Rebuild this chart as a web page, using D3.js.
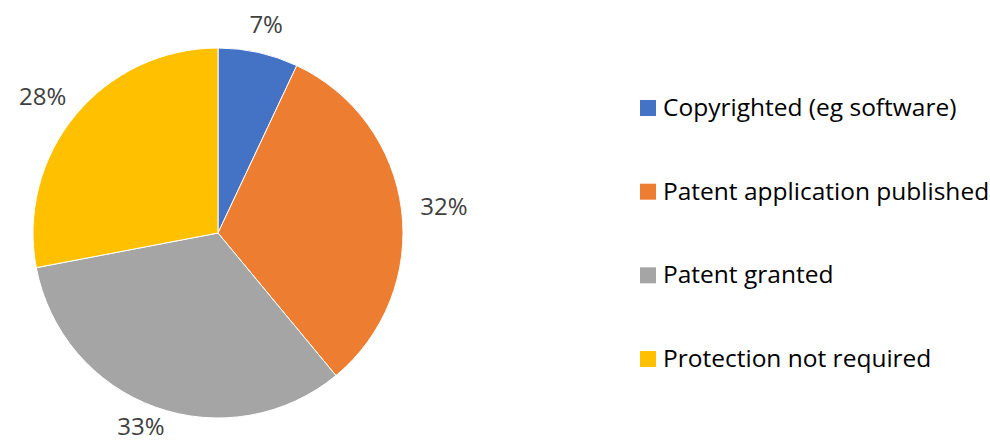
<!DOCTYPE html>
<html>
<head>
<meta charset="utf-8">
<script src="https://cdn.jsdelivr.net/npm/d3@7"></script>
<style>
  body { margin: 0; background: #fff; }
</style>
</head>
<body>
<div id="container"></div>
<script>
"use strict";

const categories = [
  "Copyrighted (eg software)",
  "Patent application published",
  "Patent granted",
  "Protection not required",
];
const shares = [7, 32, 33, 28];
const shareLabels = ["7%", "32%", "33%", "28%"];

const colors = ["#4472C4", "#ED7D31", "#A5A5A5", "#FFC000"];

const plotWidth = 990;
const plotHeight = 443;
const centerX = 218;
const centerY = 233;
const radius = 185;
const labelRadius = 204;
const labelFontSize = 24;
const legendFontSize = 24.5;
const legendX = 640;
const swatchSize = 16;

function plotPie() {
  const svg = d3
    .select("#container")
    .append("svg")
    .attr("width", plotWidth)
    .attr("height", plotHeight)
    .style("font-family", "'Open Sans', sans-serif");

  const pie = d3.pie().sort(null).value(d => d);
  const arcs = pie(shares);

  const arc = d3.arc().innerRadius(0).outerRadius(radius);

  const g = svg
    .append("g")
    .attr("transform", `translate(${centerX}, ${centerY})`);

  g.selectAll("path")
    .data(arcs)
    .enter()
    .append("path")
    .attr("d", arc)
    .attr("fill", (_d, i) => colors[i])
    .attr("stroke", "white")
    .attr("stroke-width", 1);

  // labels outside the slices, pushed out by half their box
  const labels = g
    .selectAll("text.label")
    .data(arcs)
    .enter()
    .append("text")
    .attr("class", "label")
    .attr("text-anchor", "middle")
    .attr("dy", "0.35em")
    .style("font-size", labelFontSize + "px")
    .style("fill", "#404040")
    .text((_d, i) => shareLabels[i]);

  labels.each(function (d) {
    const a = (d.startAngle + d.endAngle) / 2;
    const w = this.getComputedTextLength();
    const h = labelFontSize * 0.8;
    const x = labelRadius * Math.sin(a) + (w / 2) * Math.sin(a);
    const y = -labelRadius * Math.cos(a) - (h / 2) * Math.cos(a);
    const label = d3.select(this).attr("x", x).attr("y", y);
    // keep the whole text box inside the svg
    const box = this.getBBox();
    const overflow = box.y + box.height - (plotHeight - centerY - 1);
    if (overflow > 0) label.attr("y", y - overflow);
  });

  const rowScale = d3
    .scalePoint()
    .domain(categories)
    .range([108, 359]);

  const legend = svg.append("g");

  const rows = legend
    .selectAll("g")
    .data(categories)
    .enter()
    .append("g")
    .attr("transform", d => `translate(${legendX}, ${rowScale(d)})`);

  rows
    .append("rect")
    .attr("x", 0)
    .attr("y", -swatchSize / 2)
    .attr("width", swatchSize)
    .attr("height", swatchSize)
    .attr("fill", (_d, i) => colors[i]);

  rows
    .append("text")
    .attr("x", 23)
    .attr("y", 8)
    .style("font-size", legendFontSize + "px")
    .style("fill", "#000")
    .text(d => d);
}

plotPie();
</script>
</body>
</html>
